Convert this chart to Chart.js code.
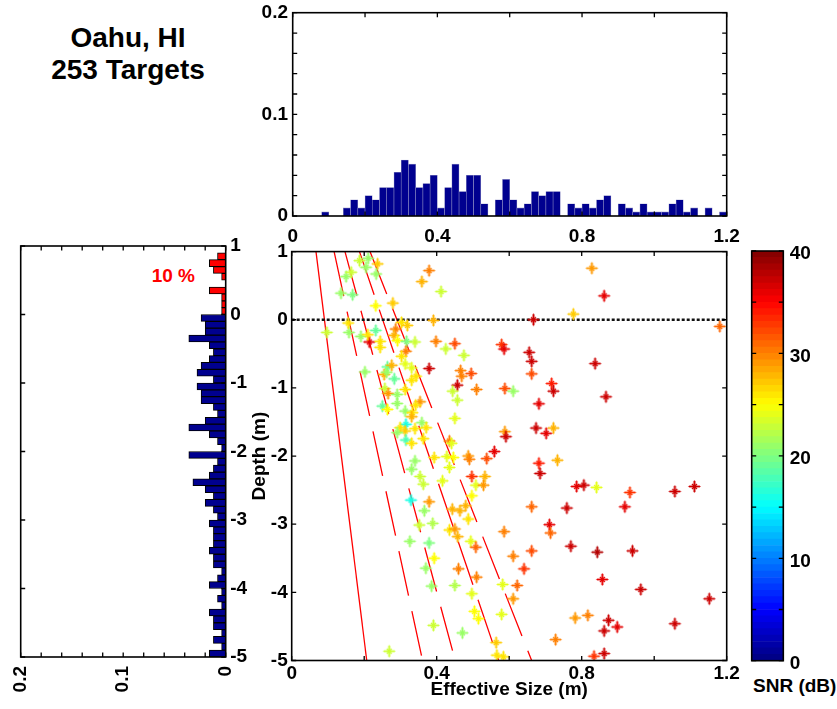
<!DOCTYPE html>
<html lang="en">
<head>
<meta charset="UTF-8">
<title>Oahu, HI - 253 Targets</title>
<script src="https://cdn.jsdelivr.net/npm/chart.js"></script>
<style>
  html, body { margin: 0; padding: 0; background: #fff; }
  body { width: 837px; height: 709px; position: relative; overflow: hidden;
         font-family: 'Liberation Sans', Arial, sans-serif; font-weight: bold; color: #000; }
  canvas { position: absolute; left: 0; top: 0; }
  .title { position: absolute; left: 28px; top: 21.75px; width: 200px; text-align: center;
           font-size: 28px; line-height: 32px; }
  .pct { position: absolute; left: 151.7px; top: 265.9px; font-size: 19px; line-height: 19px; color: #f00; }
  .snr { position: absolute; left: 753px; top: 676px; font-size: 19px; line-height: 19px; }
</style>
</head>
<body>
<div class="title">Oahu, HI<br>253 Targets</div>
<div class="pct">10 %</div>
<div class="snr">SNR (dB)</div>
<script>
// tick labels and tick marks
const sizeTicks = [0, 0.4, 0.8, 1.2];
const sizeTickMarks = [0, 0.2, 0.4, 0.6, 0.8, 1.0, 1.2];
const depthTicks = [-5, -4, -3, -2, -1, 0, 1];
const fracTicks = [0, 0.1, 0.2];
const fracTickMarks = [0, 0.02, 0.04, 0.06, 0.08, 0.1, 0.12, 0.14, 0.16, 0.18, 0.2];
const snrTicks = [0, 10, 20, 30, 40];
const snrTickMarks = [0, 5, 10, 15, 20, 25, 30, 35, 40];

// top histogram: fraction of targets per 0.02 m size bin
const sizeBinCenters = [
  0.01, 0.03, 0.05, 0.07, 0.09, 0.11, 0.13, 0.15, 0.17, 0.19,
  0.21, 0.23, 0.25, 0.27, 0.29, 0.31, 0.33, 0.35, 0.37, 0.39,
  0.41, 0.43, 0.45, 0.47, 0.49, 0.51, 0.53, 0.55, 0.57, 0.59,
  0.61, 0.63, 0.65, 0.67, 0.69, 0.71, 0.73, 0.75, 0.77, 0.79,
  0.81, 0.83, 0.85, 0.87, 0.89, 0.91, 0.93, 0.95, 0.97, 0.99,
  1.01, 1.03, 1.05, 1.07, 1.09, 1.11, 1.13, 1.15, 1.17, 1.19
];
const sizeFraction = [
  0, 0, 0, 0, 0.004, 0, 0, 0.008, 0.016, 0.008,
  0.020, 0.016, 0.028, 0.028, 0.043, 0.055, 0.051, 0.028, 0.032, 0.040,
  0.008, 0.028, 0.051, 0.024, 0.040, 0.040, 0.012, 0, 0.016, 0.036,
  0.016, 0.008, 0.012, 0.024, 0.020, 0.024, 0.024, 0, 0.012, 0.008,
  0.012, 0.008, 0.016, 0.020, 0, 0.012, 0.008, 0.004, 0.012, 0.004,
  0.004, 0.004, 0.012, 0.016, 0.004, 0.008, 0, 0.008, 0, 0.004
];

// left histogram: fraction of targets per 0.1 m depth bin
const depthBinCenters = [
  -4.95, -4.85, -4.75, -4.65, -4.55, -4.45, -4.35, -4.25, -4.15, -4.05,
  -3.95, -3.85, -3.75, -3.65, -3.55, -3.45, -3.35, -3.25, -3.15, -3.05,
  -2.95, -2.85, -2.75, -2.65, -2.55, -2.45, -2.35, -2.25, -2.15, -2.05,
  -1.95, -1.85, -1.75, -1.65, -1.55, -1.45, -1.35, -1.25, -1.15, -1.05,
  -0.95, -0.85, -0.75, -0.65, -0.55, -0.45, -0.35, -0.25, -0.15, -0.05,
  0.05, 0.15, 0.25, 0.35, 0.45, 0.55, 0.65, 0.75, 0.85, 0.95
];
const depthFraction = [
  0.016, 0.004, 0.012, 0.004, 0.012, 0.012, 0.016, 0.004, 0.008, 0.004,
  0.016, 0.008, 0.004, 0.012, 0.012, 0.016, 0.012, 0.012, 0.012, 0.016,
  0.008, 0.012, 0.020, 0.012, 0.020, 0.032, 0.016, 0.012, 0.008, 0.036,
  0.004, 0.008, 0.016, 0.036, 0.020, 0.008, 0.012, 0.024, 0.024, 0.028,
  0.012, 0.028, 0.024, 0.016, 0.012, 0.016, 0.036, 0.020, 0.020, 0.024,
  0.004, 0.004, 0.004, 0.016, 0, 0.004, 0.012, 0.016, 0.008, 0
];

// targets: effective size (m), depth (m), SNR (dB)
const targetSize = [
  0.828, 0.862, 0.777, 0.667, 1.181, 0.579, 0.586, 0.655, 0.662, 0.837,
  0.662, 0.588, 0.611, 0.717, 0.722, 0.867, 0.682, 0.588, 0.591, 0.674,
  0.722, 0.702, 0.733, 0.682, 0.685, 0.786, 0.806, 0.841, 0.933, 1.057,
  1.111, 0.662, 0.759, 0.919, 0.711, 0.714, 0.586, 0.662, 0.611, 0.770,
  0.843, 0.940, 0.641, 0.857, 0.963, 1.152, 0.582, 0.622, 0.611, 0.579,
  0.782, 0.817, 0.874, 0.862, 0.898, 1.057, 0.728, 0.862, 0.834, 0.584,
  0.187, 0.211, 0.205, 0.237, 0.150, 0.164, 0.233, 0.136, 0.168, 0.379,
  0.359, 0.412, 0.232, 0.279, 0.391, 0.097, 0.158, 0.156, 0.191, 0.232,
  0.214, 0.244, 0.244, 0.303, 0.319, 0.287, 0.282, 0.292, 0.317, 0.340,
  0.398, 0.450, 0.425, 0.475, 0.315, 0.303, 0.313, 0.379, 0.202, 0.264,
  0.276, 0.255, 0.283, 0.331, 0.343, 0.331, 0.466, 0.469, 0.495, 0.457,
  0.510, 0.257, 0.266, 0.291, 0.313, 0.354, 0.342, 0.444, 0.457, 0.291,
  0.250, 0.264, 0.313, 0.333, 0.331, 0.450, 0.359, 0.315, 0.299, 0.313,
  0.315, 0.331, 0.340, 0.371, 0.363, 0.291, 0.435, 0.441, 0.340, 0.393,
  0.428, 0.446, 0.435, 0.487, 0.490, 0.538, 0.559, 0.331, 0.354, 0.497,
  0.533, 0.363, 0.416, 0.508, 0.529, 0.497, 0.329, 0.379, 0.366, 0.443,
  0.464, 0.480, 0.487, 0.389, 0.352, 0.435, 0.450, 0.458, 0.494, 0.508,
  0.326, 0.379, 0.393, 0.370, 0.460, 0.510, 0.386, 0.450, 0.497, 0.504,
  0.515, 0.391, 0.471, 0.269, 0.564, 0.566, 0.210, 0.262
];
const targetDepth = [
  0.756, 0.351, 0.083, 0.000, -0.098, -0.365, -0.430, -0.478, -0.610, -0.643,
  -0.794, -1.009, -1.048, -0.936, -1.048, -1.130, -1.233, -1.642, -1.715, -1.589,
  -1.589, -1.667, -2.061, -2.105, -2.256, -2.446, -2.427, -2.460, -2.534, -2.520,
  -2.446, -2.744, -2.763, -2.744, -3.007, -3.129, -3.109, -3.392, -3.470, -3.323,
  -3.410, -3.392, -3.655, -3.811, -3.957, -4.094, -3.884, -3.899, -4.094, -4.323,
  -4.376, -4.337, -4.410, -4.566, -4.508, -4.460, -4.693, -4.898, -4.937, -4.946,
  0.867, 0.902, 0.770, 0.819, 0.633, 0.697, 0.672, 0.390, 0.366, 0.721,
  0.560, 0.414, 0.205, 0.244, -0.010, -0.186, -0.186, -0.048, -0.244, -0.156,
  -0.326, -0.317, -0.405, -0.039, -0.083, -0.136, -0.229, -0.307, -0.317, -0.326,
  -0.317, -0.351, -0.428, -0.522, -0.463, -0.536, -0.648, -0.716, -0.765, -0.692,
  -0.668, -0.804, -0.867, -0.706, -0.829, -0.887, -0.746, -0.829, -0.789, -0.960,
  -1.023, -1.009, -1.082, -1.096, -1.023, -1.204, -1.253, -1.048, -1.180, -1.228,
  -1.267, -1.316, -1.340, -1.364, -1.423, -1.447, -1.510, -1.535, -1.584, -1.633,
  -1.765, -1.813, -1.598, -1.584, -1.745, -1.657, -1.779, -1.813, -2.071, -2.022,
  -2.007, -2.022, -2.168, -1.999, -2.047, -2.037, -1.934, -2.193, -2.300, -2.300,
  -2.300, -2.412, -2.364, -2.427, -2.427, -2.583, -2.646, -2.671, -2.803, -2.778,
  -2.803, -2.729, -2.924, -2.987, -3.012, -3.085, -3.070, -3.183, -3.251, -3.338,
  -3.251, -3.275, -3.499, -3.645, -3.655, -3.777, -3.908, -3.899, -4.020, -4.279,
  -4.386, -4.484, -4.595, -4.864, -4.737, -4.922, -0.220, -0.770
];
const targetSnr = [
  29, 36, 27, 37, 31, 33, 36, 37, 37, 37,
  32, 32, 21, 34, 37, 37, 36, 29, 37, 37,
  28, 36, 28, 34, 37, 36, 37, 24, 33, 37,
  37, 31, 37, 36, 36, 31, 30, 32, 30, 37,
  38, 37, 33, 36, 37, 37, 24, 31, 29, 24,
  29, 30, 37, 37, 36, 37, 30, 37, 33, 26,
  23, 21, 21, 27, 21, 23, 21, 21, 20, 30,
  28, 23, 25, 27, 28, 23, 21, 26, 21, 19,
  36, 26, 26, 26, 27, 30, 28, 25, 20, 23,
  30, 32, 23, 23, 30, 26, 24, 37, 21, 19,
  28, 28, 19, 24, 26, 26, 30, 30, 32, 37,
  30, 23, 29, 21, 26, 29, 26, 23, 23, 21,
  19, 25, 21, 26, 28, 24, 21, 16, 26, 27,
  18, 26, 26, 26, 26, 21, 30, 24, 21, 26,
  24, 25, 24, 29, 30, 32, 36, 21, 23, 33,
  28, 23, 24, 24, 29, 25, 16, 29, 21, 28,
  28, 28, 26, 22, 23, 26, 29, 28, 24, 31,
  21, 20, 25, 21, 30, 30, 21, 22, 24, 25,
  25, 23, 21, 23, 27, 26, 26, 21
];

// red detection-limit lines: size at depth 1 m (top) and -5 m (bottom)
const limitTopSize = [0.067, 0.117, 0.147, 0.187, 0.216];
const limitBottomSize = [0.207, 0.361, 0.451, 0.571, 0.662];
const limitDashed = [false, true, true, true, true];

Chart.defaults.font.family = "'Liberation Sans', Arial, sans-serif";
Chart.defaults.font.size = 19;
Chart.defaults.font.weight = 'bold';
Chart.defaults.color = '#000';

// MATLAB jet colormap, v in 0..1
function jet(v) {
  const c = t => Math.round(255 * Math.min(1, Math.max(0, 1.5 - Math.abs(4 * v - t))));
  return 'rgb(' + c(3) + ',' + c(2) + ',' + c(1) + ')';
}

// MATLAB style '*' marker: long plus, short diagonals, one sprite per colour
const markerCache = {};
function starMarker(color) {
  if (markerCache[color]) return markerCache[color];
  const c = document.createElement('canvas');
  c.width = 15; c.height = 15;
  const g = c.getContext('2d');
  g.strokeStyle = color;
  g.lineCap = 'butt';
  g.globalAlpha = 0.55;
  g.lineWidth = 2.6;
  g.beginPath();
  g.moveTo(7.5, 2); g.lineTo(7.5, 13);
  g.moveTo(2, 7.5); g.lineTo(13, 7.5);
  g.stroke();
  g.globalAlpha = 1;
  g.lineWidth = 1.2;
  g.beginPath();
  g.moveTo(7.5, 1.5); g.lineTo(7.5, 13.5);
  g.moveTo(1.5, 7.5); g.lineTo(13.5, 7.5);
  g.moveTo(5, 5); g.lineTo(10, 10);
  g.moveTo(10, 5); g.lineTo(5, 10);
  g.stroke();
  markerCache[color] = c;
  return c;
}

// fixed axis thickness so every plot box lands where it should
function fixed(size) {
  return s => {
    if (s.isHorizontal()) s.height = size; else s.width = size;
    s.paddingLeft = 0; s.paddingRight = 0; s.paddingTop = 0; s.paddingBottom = 0;
  };
}
function setTicks(vals) {
  return s => { s.ticks = vals.map(v => ({ value: v })); };
}

// box round the plot with inward tick marks on all sides
const framePlugin = {
  id: 'frame',
  defaults: { len: 4.5 },
  afterDraw(chart, args, opts) {
    const { ctx, chartArea: a } = chart;
    const len = opts.len;
    ctx.save();
    ctx.strokeStyle = '#000';
    ctx.lineWidth = 1.3;
    ctx.beginPath();
    (opts.xMarks || []).forEach(v => {
      const px = chart.scales.x.getPixelForValue(v);
      ctx.moveTo(px, a.bottom); ctx.lineTo(px, a.bottom - len);
      ctx.moveTo(px, a.top); ctx.lineTo(px, a.top + len);
    });
    (opts.yMarks || []).forEach(v => {
      const py = chart.scales.y.getPixelForValue(v);
      ctx.moveTo(a.left, py); ctx.lineTo(a.left + len, py);
      ctx.moveTo(a.right, py); ctx.lineTo(a.right - len, py);
    });
    ctx.stroke();
    ctx.lineWidth = 1.6;
    ctx.strokeRect(a.left, a.top, a.right - a.left, a.bottom - a.top);
    ctx.restore();
  }
};
Chart.register(framePlugin);

function newCanvas() {
  const c = document.createElement('canvas');
  c.width = 837; c.height = 709;
  document.body.appendChild(c);
  return c.getContext('2d');
}

const baseOpts = {
  responsive: false,
  animation: false,
  events: [],
  plugins: { legend: { display: false }, tooltip: { enabled: false } }
};
const noGrid = { display: false, drawTicks: false };
const noBorder = { display: false };

// ---- main scatter: effective size vs depth ----
const points = targetSize.map((x, i) => ({ x: x, y: targetDepth[i] }));
const pointColors = targetSnr.map(s => jet(s / 40));

const limitSets = limitTopSize.map((top, i) => ({
  data: [{ x: top, y: 1 }, { x: limitBottomSize[i], y: -5 }],
  showLine: true,
  borderColor: '#ff0000',
  borderWidth: 1.3,
  borderDash: limitDashed[i] ? [45.5, 15.8] : [],
  pointRadius: 0
}));

new Chart(newCanvas(), {
  type: 'scatter',
  data: {
    datasets: [
      {
        data: points,
        pointStyle: pointColors.map(starMarker),
        pointRadius: 6,
        pointBorderColor: pointColors,
        pointBackgroundColor: pointColors
      },
      {
        data: [{ x: 0, y: 0 }, { x: 1.2, y: 0 }],
        showLine: true,
        borderColor: '#111',
        borderWidth: 2.5,
        borderDash: [3, 2],
        pointRadius: 0
      }
    ].concat(limitSets)
  },
  options: Object.assign({}, baseOpts, {
    layout: { padding: { left: 247.7, right: 110.3, top: 251.6, bottom: 6.5 } },
    plugins: Object.assign({}, baseOpts.plugins, {
      frame: { xMarks: sizeTickMarks, yMarks: depthTicks }
    }),
    scales: {
      x: {
        type: 'linear', min: 0, max: 1.2,
        grid: noGrid, border: noBorder,
        afterBuildTicks: setTicks(sizeTicks), afterFit: fixed(42),
        ticks: { padding: 2, maxRotation: 0, autoSkip: false, callback: v => String(v) },
        title: { display: true, text: 'Effective Size (m)', padding: { top: 0, bottom: 1.6 } }
      },
      y: {
        type: 'linear', min: -5, max: 1,
        grid: noGrid, border: noBorder,
        afterBuildTicks: setTicks(depthTicks), afterFit: fixed(44),
        ticks: { padding: 4, autoSkip: false, callback: v => String(v) },
        title: { display: true, text: 'Depth (m)', padding: { top: 0.4, bottom: 0 } }
      }
    }
  })
});

// ---- top histogram: size distribution ----
new Chart(newCanvas(), {
  type: 'bar',
  data: {
    datasets: [{
      data: sizeBinCenters.map((c, i) => ({ x: c, y: sizeFraction[i] })),
      backgroundColor: '#00008f',
      borderColor: '#8c8cc4',
      borderWidth: 0.6,
      categoryPercentage: 1,
      barPercentage: 1
    }]
  },
  options: Object.assign({}, baseOpts, {
    layout: { padding: { left: 247.7, right: 110.3, top: 12.7, bottom: 463 } },
    plugins: Object.assign({}, baseOpts.plugins, {
      frame: { xMarks: sizeTickMarks, yMarks: fracTickMarks }
    }),
    scales: {
      x: {
        type: 'linear', min: 0, max: 1.2, offset: false,
        grid: Object.assign({ offset: false }, noGrid), border: noBorder,
        afterBuildTicks: setTicks(sizeTicks), afterFit: fixed(30),
        ticks: { padding: 9.6, maxRotation: 0, autoSkip: false, callback: v => String(v) }
      },
      y: {
        type: 'linear', min: 0, max: 0.2,
        grid: noGrid, border: noBorder,
        afterBuildTicks: setTicks(fracTicks), afterFit: fixed(45),
        ticks: { padding: 4.7, autoSkip: false, callback: v => String(v) }
      }
    }
  })
});

// ---- left histogram: depth distribution ----
new Chart(newCanvas(), {
  type: 'bar',
  data: {
    datasets: [{
      data: depthBinCenters.map((c, i) => ({ x: depthFraction[i], y: c })),
      backgroundColor: depthBinCenters.map(c => c > 0 ? '#ff0000' : '#00008f'),
      borderColor: '#000',
      borderWidth: 1,
      categoryPercentage: 1,
      barPercentage: 1
    }]
  },
  options: Object.assign({}, baseOpts, {
    indexAxis: 'y',
    layout: { padding: { left: 20.7, right: 571.3, top: 246, bottom: 2 } },
    plugins: Object.assign({}, baseOpts.plugins, {
      frame: { xMarks: fracTickMarks, yMarks: depthTicks }
    }),
    scales: {
      x: {
        type: 'linear', min: 0, max: 0.2, reverse: true,
        grid: noGrid, border: noBorder,
        afterBuildTicks: setTicks(fracTicks), afterFit: fixed(50),
        ticks: { padding: 9, minRotation: 90, maxRotation: 90, autoSkip: false, callback: v => String(v) }
      },
      y: {
        type: 'linear', position: 'right', min: -5, max: 1, offset: false,
        grid: Object.assign({ offset: false }, noGrid), border: noBorder,
        afterBuildTicks: setTicks(depthTicks), afterFit: fixed(40),
        ticks: { padding: 4.5, autoSkip: false, callback: v => String(v) }
      }
    }
  })
});

// ---- colour bar (jet, 64 levels) ----
const bandCount = 64;
const bands = [];
for (let i = 0; i < bandCount; i++) {
  bands.push({
    data: [40 / bandCount],
    backgroundColor: jet((i + 0.5) / bandCount),
    borderWidth: 0,
    categoryPercentage: 1,
    barPercentage: 1
  });
}
new Chart(newCanvas(), {
  type: 'bar',
  data: { labels: [''], datasets: bands },
  options: Object.assign({}, baseOpts, {
    layout: { padding: { left: 751.7, right: 3.7, top: 251, bottom: 48.3 } },
    plugins: Object.assign({}, baseOpts.plugins, {
      frame: { xMarks: [], yMarks: snrTickMarks }
    }),
    scales: {
      x: { stacked: true, display: false },
      y: {
        stacked: true, position: 'right', min: 0, max: 40,
        grid: noGrid, border: noBorder,
        afterBuildTicks: setTicks(snrTicks), afterFit: fixed(50),
        ticks: { padding: 6.5, labelOffset: 3, autoSkip: false, callback: v => String(v) }
      }
    }
  })
});
</script>
</body>
</html>
